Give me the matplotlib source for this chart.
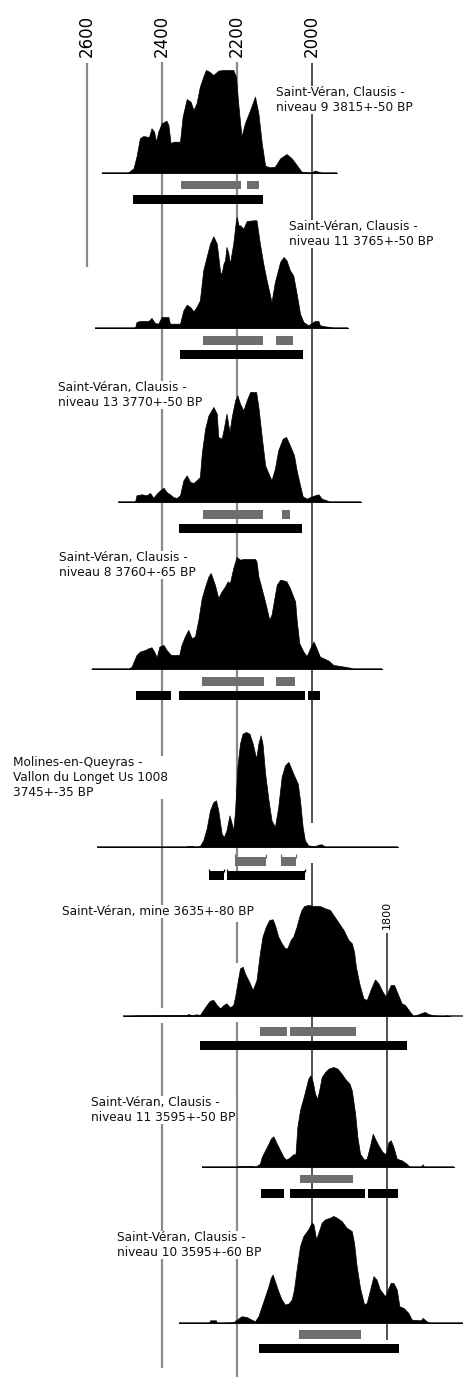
import numpy as np
import matplotlib.pyplot as plt

# calibrated probability curves, years BC vs relative probability (% of panel max)
years1 = [2561, 2492, 2476, 2468, 2459, 2450, 2441, 2435, 2428, 2421, 2416, 2410, 2401, 2388, 2383, 2377, 2370, 2352,
          2345, 2334, 2324, 2316, 2308, 2299, 2290, 2283, 2274, 2263, 2250, 2236, 2210, 2203, 2196, 2188, 2179, 2165,
          2152, 2143, 2134, 2125, 2112, 2099, 2085, 2068, 2054, 2041, 2028, 2005, 1992, 1983, 1974, 1934]
dens1 = [0, 0, 4.5, 15.9, 33.7, 35.9, 35.3, 34.6, 43.4, 40.1, 30.4, 40.1, 48.2, 50.8, 46.6, 28.8, 30.4, 30.4,
         54.7, 71.8, 69.3, 61.2, 67.6, 83.8, 93.5, 100, 98.4, 95.1, 99.4, 100, 100, 93.5, 64.4, 35.3, 48.2, 61.2,
         74.1, 57.9, 28.8, 7.1, 5.5, 6.1, 14.2, 18.4, 14.2, 7.8, 1.3, 0.3, 2.3, 1.3, 0, 0]

years2 = [2579, 2472, 2468, 2459, 2436, 2428, 2419, 2410, 2401, 2383, 2379, 2352, 2343, 2334, 2325, 2316, 2308, 2299,
          2290, 2281, 2272, 2263, 2254, 2245, 2241, 2236, 2232, 2228, 2223, 2219, 2210, 2205, 2201, 2196, 2192, 2183,
          2174, 2156, 2148, 2139, 2130, 2121, 2108, 2099, 2085, 2076, 2068, 2059, 2050, 2041, 2032, 2023, 2010, 2001,
          1992, 1983, 1979, 1965, 1952, 1943, 1904]
dens2 = [0, 0, 5.4, 6.3, 6.3, 9.0, 4.5, 3.9, 9.9, 9.9, 3.9, 3.9, 15.9, 21.0, 18.9, 15.0, 18.9, 24.9,
         52.0, 64.0, 76.0, 82.6, 76.0, 50.5, 48.9, 58.0, 61.0, 73.0, 67.0, 58.0, 76.0, 91.0, 100, 92.5, 92.5, 89.5,
         96.4, 97.0, 97.0, 76.0, 58.0, 42.9, 23.4, 41.4, 59.5, 64.0, 61.0, 52.0, 47.4, 30.9, 12.9, 5.4, 2.4, 4.5,
         6.3, 6.3, 2.4, 1.5, 0.9, 0, 0]

years3 = [2516, 2472, 2468, 2454, 2441, 2432, 2423, 2414, 2405, 2396, 2388, 2379, 2370, 2361, 2352, 2343, 2334, 2325,
          2316, 2308, 2299, 2294, 2285, 2276, 2263, 2254, 2250, 2241, 2236, 2228, 2220, 2214, 2205, 2199, 2192, 2183,
          2174, 2165, 2149, 2143, 2134, 2125, 2116, 2108, 2099, 2090, 2078, 2069, 2059, 2048, 2041, 2032, 2025, 2014,
          2005, 1992, 1983, 1974, 1961, 1952, 1869]
dens3 = [0, 0, 6.1, 7.0, 6.1, 8.2, 3.9, 7.6, 10.6, 13.0, 9.1, 7.0, 4.5, 3.6, 6.1, 19.7, 24.2, 18.2,
         17.3, 19.7, 22.7, 43.9, 66.7, 78.8, 86.4, 80.3, 59.1, 57.6, 65.2, 80.3, 63.6, 77.3, 92.4, 97.0, 89.4, 83.3,
         92.4, 100, 100, 86.4, 59.1, 33.3, 25.8, 19.7, 30.3, 47.0, 57.6, 59.1, 51.5, 42.4, 28.8, 15.2, 5.2, 3.0,
         4.5, 6.1, 7.0, 3.0, 1.5, 0, 0]

years4 = [2588, 2490, 2481, 2468, 2459, 2445, 2436, 2428, 2421, 2414, 2407, 2396, 2388, 2376, 2354, 2348, 2339, 2330,
          2321, 2312, 2303, 2294, 2285, 2276, 2270, 2259, 2250, 2241, 2232, 2225, 2219, 2210, 2201, 2192, 2183, 2170,
          2152, 2148, 2143, 2130, 2121, 2114, 2108, 2101, 2094, 2085, 2076, 2068, 2059, 2045, 2041, 2034, 2023, 2014,
          2005, 1996, 1988, 1979, 1956, 1943, 1925, 1899, 1890, 1813]
dens4 = [0, 0, 2.1, 12.5, 15.5, 17.0, 18.5, 19.4, 15.5, 10.4, 20.0, 21.5, 17.0, 12.5, 12.5, 21.5, 29.0, 34.9,
         27.5, 29.0, 43.9, 63.3, 73.7, 82.7, 85.7, 75.2, 63.3, 69.3, 73.7, 78.2, 76.7, 90.1, 100, 97.6, 98.2, 98.2,
         98.2, 96.1, 82.7, 66.3, 54.3, 43.9, 48.4, 61.8, 75.2, 79.7, 79.1, 78.2, 72.2, 60.3, 43.9, 23.0, 15.5, 11.6,
         18.5, 24.5, 18.5, 11.0, 7.5, 3.6, 2.7, 1.2, 0, 0]

years5 = [2573, 2339, 2334, 2321, 2308, 2299, 2290, 2281, 2272, 2263, 2256, 2250, 2241, 2235, 2228, 2220, 2214, 2210,
          2205, 2199, 2192, 2185, 2176, 2167, 2158, 2149, 2143, 2137, 2132, 2125, 2116, 2108, 2099, 2090, 2081, 2072,
          2063, 2059, 2050, 2038, 2032, 2025, 2019, 2010, 1992, 1983, 1974, 1965, 1771]
dens5 = [0, 0, 0.6, 0.9, 0, 0.9, 5.8, 15.9, 31.9, 39.1, 40.6, 31.9, 11.6, 8.7, 14.5, 27.5, 20.3, 14.5,
         31.9, 69.6, 89.9, 98.6, 100, 98.6, 89.9, 76.8, 89.9, 97.1, 89.9, 63.8, 40.6, 23.2, 17.4, 34.8, 60.9, 71.0,
         73.9, 71.0, 63.8, 55.1, 40.6, 17.4, 5.8, 1.4, 0.6, 2.0, 2.3, 0, 0]

years6 = [2503, 2463, 2334, 2330, 2321, 2308, 2299, 2290, 2281, 2272, 2263, 2254, 2245, 2236, 2228, 2219, 2210, 2205,
          2199, 2192, 2185, 2179, 2170, 2158, 2148, 2139, 2132, 2123, 2114, 2105, 2099, 2090, 2081, 2072, 2066, 2057,
          2050, 2041, 2034, 2028, 2021, 2010, 1996, 1979, 1965, 1952, 1943, 1934, 1925, 1916, 1903, 1894, 1888, 1883,
          1874, 1863, 1854, 1844, 1832, 1823, 1812, 1803, 1796, 1790, 1781, 1772, 1761, 1752, 1739, 1730, 1721, 1710,
          1699, 1690, 1676, 1650, 1641, 1632]
dens6 = [0, 0.6, 0.9, 1.8, 0.6, 1.5, 0.9, 5.4, 9.9, 13.8, 14.4, 9.9, 6.9, 9.9, 11.4, 7.8, 9.9, 17.4,
         29.4, 42.9, 44.4, 38.4, 32.4, 23.4, 32.4, 56.5, 71.5, 80.5, 86.5, 87.1, 82.0, 71.5, 65.5, 61.0, 61.0, 68.5,
         71.5, 80.5, 89.5, 95.5, 99.1, 100, 99.1, 99.1, 97.0, 95.5, 91.0, 86.5, 82.0, 77.5, 68.5, 65.5, 58.0, 44.4,
         29.4, 15.9, 14.4, 23.4, 33.0, 29.4, 21.9, 17.4, 23.4, 27.9, 27.9, 20.4, 11.4, 9.9, 3.9, 0, 0.9, 2.4,
         3.6, 1.8, 0.6, 0, 0.6, 0]

years7 = [2294, 2201, 2196, 2156, 2152, 2139, 2134, 2125, 2116, 2110, 2103, 2096, 2085, 2076, 2069, 2060, 2050, 2044,
          2039, 2032, 2021, 2010, 2004, 1998, 1992, 1986, 1980, 1974, 1965, 1956, 1943, 1932, 1921, 1912, 1900, 1894,
          1885, 1879, 1872, 1861, 1854, 1845, 1838, 1832, 1823, 1812, 1803, 1796, 1790, 1783, 1774, 1761, 1748, 1739,
          1710, 1705, 1701, 1621]
dens7 = [0, 0, 1.0, 1.0, 0, 3.3, 10.0, 16.7, 23.3, 28.3, 30.7, 25.0, 16.7, 10.0, 7.3, 9.3, 12.7, 12.7,
         40.0, 56.7, 71.7, 88.3, 91.7, 85.0, 73.3, 68.3, 78.3, 90.0, 95.0, 98.3, 100, 98.3, 93.3, 88.3, 83.3, 76.7,
         53.3, 30.0, 13.3, 7.3, 8.3, 21.7, 33.3, 28.3, 21.7, 15.0, 12.7, 25.0, 26.7, 20.0, 8.3, 6.7, 3.3, 0,
         0, 2.7, 0, 0]

years8 = [2355, 2274, 2272, 2256, 2254, 2210, 2201, 2188, 2174, 2165, 2152, 2143, 2134, 2125, 2116, 2110, 2105, 2099,
          2090, 2081, 2072, 2063, 2054, 2048, 2041, 2032, 2023, 2010, 2001, 1996, 1989, 1983, 1974, 1965, 1952, 1943,
          1934, 1921, 1908, 1894, 1888, 1881, 1872, 1861, 1854, 1845, 1836, 1828, 1819, 1805, 1796, 1790, 1783, 1774,
          1767, 1756, 1743, 1734, 1710, 1705, 1694, 1685, 1595]
dens8 = [0, 0, 2.5, 2.5, 0, 0.6, 3.1, 6.3, 5.6, 3.8, 1.6, 6.3, 15.6, 25.0, 34.4, 42.2, 45.3, 39.1,
         29.7, 21.9, 17.2, 18.1, 21.9, 31.3, 50.0, 71.9, 81.3, 87.5, 93.8, 92.2, 78.1, 84.4, 93.8, 96.9, 98.4, 100,
         98.4, 95.3, 89.1, 85.9, 75.0, 53.1, 32.8, 17.2, 18.8, 31.3, 43.8, 40.6, 31.3, 25.0, 32.8, 37.5, 37.5, 31.3,
         15.6, 14.1, 9.4, 3.1, 2.5, 4.7, 1.6, 0, 0]

# 68.2% (grey) and 95.4% (black) ranges, BC (from, to)
range68 = [[(2349, 2189), (2173, 2141)],
           [(2290, 2132), (2096, 2050)],
           [(2290, 2130), (2079, 2058)],
           [(2294, 2128), (2096, 2045)],
           [(2205, 2123), (2083, 2042)],
           [(2140, 2068), (2059, 1884)],
           [(2032, 1892)],
           [(2035, 1870)]]
range95 = [[(2477, 2131)],
           [(2352, 2025)],
           [(2354, 2027)],
           [(2470, 2376), (2354, 2019), (2012, 1979)],
           [(2276, 2235), (2228, 2019)],
           [(2300, 1746)],
           [(2137, 2076), (2060, 1860), (1852, 1770)],
           [(2142, 1769)]]

labels = ["Saint-Véran, Clausis -\nniveau 9 3815+-50 BP",
          "Saint-Véran, Clausis -\nniveau 11 3765+-50 BP",
          "Saint-Véran, Clausis -\nniveau 13 3770+-50 BP",
          "Saint-Véran, Clausis -\nniveau 8 3760+-65 BP",
          "Molines-en-Queyras -\nVallon du Longet Us 1008\n3745+-35 BP",
          "Saint-Véran, mine 3635+-80 BP",
          "Saint-Véran, Clausis -\nniveau 11 3595+-50 BP",
          "Saint-Véran, Clausis -\nniveau 10 3595+-60 BP"]

tick_years = [2600, 2400, 2200, 2000]
tick_years_small = [1800]

curves = [(years1, dens1), (years2, dens2), (years3, dens3), (years4, dens4),
          (years5, dens5), (years6, dens6), (years7, dens7), (years8, dens8)]

# layout (pixel rows on a 1377 px tall canvas)
base_y = [173, 328, 502, 669, 847, 1016, 1167, 1323]
peak_h = [103, 111, 110, 112, 115, 111, 100, 107]
base_x = [(2560, 1933), (2579, 1904), (2517, 1869), (2587, 1813), (2573, 1771),
          (2504, 1590), (2293, 1621), (2355, 1590)]
gap68 = [7.5, 8, 8, 8, 10, 11, 7.5, 7]
bracketed = [False, False, False, False, True, False, False, False]
label_pos = [(2096, 86), (2061, 220), (2677, 381), (2675, 551), (2797, 756),
             (2667, 905), (2589, 1096), (2520, 1231)]

grid = {2600: [(63, 267)],
        2400: [(62, 1008), (1023, 1368)],
        2200: [(62, 880), (922, 963), (1022, 1377)],
        2000: [(63, 823), (863, 1323)],
        1800: [(933, 1340)]}

fig = plt.figure(figsize=(4.64, 13.77), dpi=100)
ax = fig.add_axes([0, 0, 1, 1])
ax.set_xlim(2832, 1594.7)
ax.set_ylim(1377, 0)
ax.axis('off')

for yr, segs in grid.items():
    dark = yr in (2000, 1800)
    for y0, y1 in segs:
        ax.vlines(yr, y0, y1, color='#202020' if dark else '#8a8a8a',
                  lw=1.1 if dark else 1.6, zorder=1)

for yr in tick_years:
    ax.text(yr, 57, str(yr), rotation=90, ha='center', va='bottom', fontsize=12, color='black')
for yr in tick_years_small:
    ax.text(yr, 929, str(yr), rotation=90, ha='center', va='bottom', fontsize=8, color='black',
            bbox=dict(fc='white', ec='none', pad=0.5))

for i, (yrs, dens) in enumerate(curves):
    b = base_y[i]
    h = np.array(dens) / 100.0 * peak_h[i]
    ax.hlines(b, base_x[i][0], base_x[i][1], color='#3a3a3a', lw=1.2, zorder=2)
    ax.fill_between(yrs, b - h, b, color='black', lw=0.5, zorder=4)
    g0 = b + gap68[i]
    k0 = g0 + 14
    for s, e in range68[i]:
        ax.barh(g0 + 4.25, s - e, left=e, height=8.5, color='#6e6e6e', zorder=3)
        if bracketed[i]:
            ax.vlines([s, e], g0 - 3, g0 + 1, color='#6e6e6e', lw=0.9, zorder=3)
    for s, e in range95[i]:
        ax.barh(k0 + 4.5, s - e, left=e, height=9, color='black', zorder=3)
        if bracketed[i]:
            ax.vlines([s, e], k0 - 2, k0 + 1, color='black', lw=0.9, zorder=3)
    lx, ly = label_pos[i]
    ax.text(lx, ly, labels[i], ha='left', va='top', fontsize=8.7, color='#111111',
            linespacing=1.2, zorder=5, bbox=dict(fc='white', ec='none', pad=0.3))

fig.savefig('out.png', dpi=100)
